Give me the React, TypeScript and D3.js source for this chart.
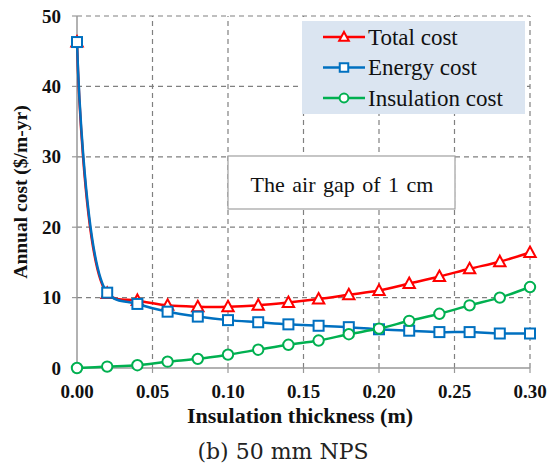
import React from "react";
import * as d3 from "d3";

const thickness = [0, 0.02, 0.04, 0.06, 0.08, 0.1, 0.12, 0.14, 0.16, 0.18, 0.2, 0.22, 0.24, 0.26, 0.28, 0.3];
const totalCost = [46.3, 10.6, 9.6, 8.9, 8.7, 8.7, 8.9, 9.3, 9.8, 10.4, 11.0, 12.0, 13.0, 14.1, 15.1, 16.4];
const energyCost = [46.3, 10.7, 9.1, 8.0, 7.3, 6.8, 6.5, 6.2, 6.0, 5.8, 5.5, 5.3, 5.1, 5.1, 4.9, 4.9];
const insulationCost = [0, 0.2, 0.4, 0.9, 1.3, 1.9, 2.6, 3.3, 3.9, 4.8, 5.6, 6.7, 7.7, 8.9, 10.0, 11.5];
const xTicks = [0, 0.05, 0.1, 0.15, 0.2, 0.25, 0.3];
const yTicks = [0, 10, 20, 30, 40, 50];
const seriesNames = ["Total cost", "Energy cost", "Insulation cost"];
const seriesColors = ["#ff0000", "#0070c0", "#00b050"];
const seriesShapes = ["triangle", "square", "circle"];

const W = 556, H = 466;
const x = d3.scaleLinear().domain([0, 0.3]).range([77, 530]);
const y = d3.scaleLinear().domain([0, 50]).range([368, 16]);

function Marker({ shape, cx, cy, color, size = 1 }: { shape: string; cx: number; cy: number; color: string; size?: number }) {
  if (shape === "square") {
    const h = 5 * size;
    return <rect x={cx - h} y={cy - h} width={2 * h} height={2 * h} fill="#fff" stroke={color} strokeWidth={2} />;
  }
  if (shape === "circle") {
    return <circle cx={cx} cy={cy} r={5.2 * size} fill="#fff" stroke={color} strokeWidth={2} />;
  }
  const s = 6 * size;
  const pts = `${cx},${cy - s} ${cx + s * 0.95},${cy + s * 0.75} ${cx - s * 0.95},${cy + s * 0.75}`;
  return <polygon points={pts} fill="#fff" stroke={color} strokeWidth={2} />;
}

export default function App() {
  const data = [totalCost, energyCost, insulationCost];
  const line = d3
    .line<number>()
    .x((_, i) => x(thickness[i]))
    .y((d) => y(d))
    .curve(d3.curveCatmullRom.alpha(0.5));
  const serif = "'Liberation Serif', 'Times New Roman', serif";
  const gridColor = "#808080";
  return (
    <svg width={W} height={H} style={{ position: "absolute", left: 0, top: 0 }}>
      <rect x={0} y={0} width={W} height={H} fill="#fff" />
      {/* gridlines */}
      {yTicks.filter((t) => t > 0).map((t) => (
        <line key={"gy" + t} x1={x(0)} x2={x(0.3)} y1={y(t)} y2={y(t)} stroke={gridColor} strokeWidth={1.2} strokeDasharray="5,4" />
      ))}
      {xTicks.filter((t) => t > 0).map((t) => (
        <line key={"gx" + t} x1={x(t)} x2={x(t)} y1={y(0)} y2={y(50)} stroke={gridColor} strokeWidth={1.2} strokeDasharray="5,4" />
      ))}
      {/* axes */}
      <line x1={x(0)} x2={x(0)} y1={y(0)} y2={y(50)} stroke="#999" strokeWidth={1.5} />
      <line x1={x(0)} x2={x(0.3)} y1={y(0)} y2={y(0)} stroke="#999" strokeWidth={1.5} />
      {yTicks.map((t) => (
        <line key={"ty" + t} x1={x(0) - 5} x2={x(0)} y1={y(t)} y2={y(t)} stroke="#999" strokeWidth={1.2} />
      ))}
      {xTicks.map((t) => (
        <line key={"tx" + t} x1={x(t)} x2={x(t)} y1={y(0)} y2={y(0) + 5} stroke="#999" strokeWidth={1.2} />
      ))}
      {/* tick labels */}
      {yTicks.map((t) => (
        <text key={"ly" + t} x={61} y={y(t)} dy="0.35em" textAnchor="end" fontFamily={serif} fontWeight="bold" fontSize={19} fill="#111">
          {t}
        </text>
      ))}
      {xTicks.map((t) => (
        <text key={"lx" + t} x={x(t)} y={398} textAnchor="middle" fontFamily={serif} fontWeight="bold" fontSize={19} fill="#111">
          {t.toFixed(2)}
        </text>
      ))}
      <text x={300} y={423} textAnchor="middle" fontFamily={serif} fontWeight="bold" fontSize={22} fill="#111">
        Insulation thickness (m)
      </text>
      <text transform="translate(27,192) rotate(-90)" textAnchor="middle" fontFamily={serif} fontWeight="bold" fontSize={19.5} fill="#111">
        Annual cost ($/m-yr)
      </text>
      <text x={283} y={459} textAnchor="middle" fontFamily="'DejaVu Serif', serif" fontSize={22} fill="#222">
        (b) 50 mm NPS
      </text>
      {/* annotation box */}
      <rect x={228} y={156} width={227} height={53} fill="#fff" stroke="#a0a0a0" strokeWidth={1.2} />
      <text x={342} y={192} textAnchor="middle" fontFamily={serif} fontSize={22} wordSpacing={2} fill="#111">
        The air gap of 1 cm
      </text>
      {/* series */}
      {data.map((vals, si) => (
        <g key={"s" + si}>
          <path d={line(vals) || ""} fill="none" stroke={seriesColors[si]} strokeWidth={2.5} />
          {vals.map((v, i) => (
            <Marker key={i} shape={seriesShapes[si]} cx={x(thickness[i])} cy={y(v)} color={seriesColors[si]} />
          ))}
        </g>
      ))}
      {/* legend */}
      <rect x={302} y={21} width={223} height={93} fill="#dbe5f1" />
      {seriesNames.map((n, i) => {
        const ly = 37 + i * 30.5;
        return (
          <g key={"lg" + i}>
            <line x1={323} x2={365} y1={ly} y2={ly} stroke={seriesColors[i]} strokeWidth={2.5} />
            <Marker shape={seriesShapes[i]} cx={344} cy={ly} color={seriesColors[i]} size={0.85} />
            <text x={368} y={ly} dy="0.33em" fontFamily={serif} fontSize={23} fill="#111">
              {n}
            </text>
          </g>
        );
      })}
    </svg>
  );
}
